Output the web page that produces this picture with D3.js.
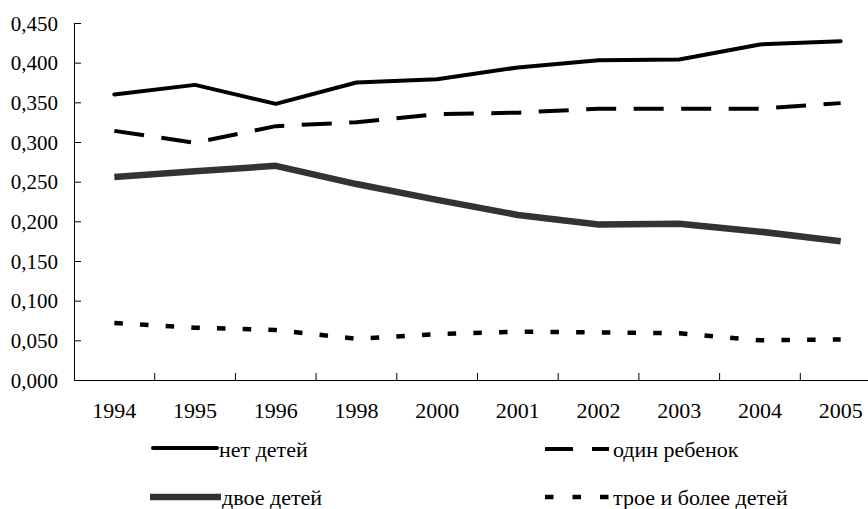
<!DOCTYPE html>
<html>
<head>
<meta charset="utf-8">
<script src="https://cdn.jsdelivr.net/npm/d3@7"></script>
<style>
  body { margin: 0; background: #fff; }
  svg { display: block; }
  svg text { fill: #000; font-family: "Liberation Serif", "Times New Roman", serif; }
</style>
</head>
<body>
<svg id="chart" width="868" height="509"></svg>
<script>
const years = ["1994", "1995", "1996", "1998", "2000", "2001", "2002", "2003", "2004", "2005"];
const yTicks = [0, 0.05, 0.1, 0.15, 0.2, 0.25, 0.3, 0.35, 0.4, 0.45];

const noChildren = [0.360, 0.372, 0.348, 0.375, 0.379, 0.394, 0.403, 0.404, 0.423, 0.427];
const oneChild = [0.314, 0.299, 0.320, 0.325, 0.335, 0.337, 0.342, 0.342, 0.342, 0.349];
const twoChildren = [0.256, 0.263, 0.270, 0.247, 0.227, 0.208, 0.196, 0.197, 0.187, 0.175];
const threePlus = [0.072, 0.066, 0.063, 0.052, 0.058, 0.061, 0.060, 0.059, 0.050, 0.051];

const seriesNames = ["нет детей", "один ребенок", "двое детей", "трое и более детей"];

const series = [
  { name: seriesNames[0], values: noChildren, color: "#000", width: 4, dash: null, cap: "round" },
  { name: seriesNames[1], values: oneChild, color: "#000", width: 4, dash: "30,17.5", cap: "butt" },
  { name: seriesNames[2], values: twoChildren, color: "#333", width: 6.5, dash: null, cap: "butt" },
  { name: seriesNames[3], values: threePlus, color: "#000", width: 4.5, dash: "8.5,17.2", cap: "butt" },
];

const svg = d3.select("#chart");
const plotLeft = 74;
const plotTop = 23;
const plotBottom = 380;
const step = 80.7;
const serif = '"Liberation Serif", "Times New Roman", serif';

const x = d3.scaleBand().domain(years).range([plotLeft, plotLeft + step * years.length]);
const y = d3.scaleLinear().domain([0, 0.45]).range([plotBottom, plotTop]);

const ru = d3.formatLocale({ decimal: ",", thousands: " ", grouping: [3], currency: ["", ""] });
const fmt = ru.format(".3f");

// y axis, ticks pointing inward
const yAxis = svg.append("g")
  .attr("transform", `translate(${plotLeft},0)`)
  .call(d3.axisLeft(y).tickValues(yTicks).tickSize(-7).tickSizeOuter(0).tickPadding(16).tickFormat(fmt))
  .attr("font-family", serif)
  .attr("font-size", 21);
yAxis.select(".domain").attr("stroke", "#000");
yAxis.selectAll(".tick line").attr("stroke", "#000");
yAxis.selectAll("text").attr("dy", "0.34em").style("font-family", serif);

// x axis: labels at band centres, ticks at band boundaries
const xAxis = svg.append("g")
  .attr("transform", `translate(0,${plotBottom})`)
  .call(d3.axisBottom(x).tickSize(0).tickPadding(22))
  .attr("font-family", serif)
  .attr("font-size", 22);
xAxis.select(".domain").attr("stroke", "#000");
xAxis.selectAll("text").style("font-family", serif);

xAxis.selectAll(".sep")
  .data(years.slice(1))
  .join("line")
  .attr("class", "sep")
  .attr("x1", (d) => x(d))
  .attr("x2", (d) => x(d))
  .attr("y1", 0)
  .attr("y2", -7)
  .attr("stroke", "#000");
xAxis.append("line")
  .attr("x1", x.range()[1])
  .attr("x2", x.range()[1])
  .attr("y1", 0)
  .attr("y2", -7)
  .attr("stroke", "#000");

const line = d3.line()
  .x((d, i) => x(years[i]) + x.bandwidth() / 2)
  .y((d) => y(d));

// draw order: twoChildren underneath
const drawOrder = [2, 3, 1, 0];
svg.append("g")
  .selectAll("path")
  .data(drawOrder.map((i) => series[i]))
  .join("path")
  .attr("d", (d) => line(d.values))
  .attr("fill", "none")
  .attr("stroke", (d) => d.color)
  .attr("stroke-width", (d) => d.width)
  .attr("stroke-dasharray", (d) => d.dash)
  .attr("stroke-linecap", (d) => d.cap)
  .attr("stroke-linejoin", "round");

// legend
const legendPos = [
  { x1: 153, x2: 217, y: 448, tx: 219, ty: 457 },
  { x1: 545, x2: 609, y: 449, tx: 613, ty: 457 },
  { x1: 150, x2: 221, y: 497, tx: 222, ty: 505 },
  { x1: 545, x2: 609, y: 497, tx: 613, ty: 505 },
];
const legendDash = [null, "28,19", null, "8.5,19"];

const legend = svg.append("g")
  .attr("font-family", serif)
  .attr("font-size", 22)
  .selectAll("g")
  .data(series)
  .join("g");

legend.append("line")
  .attr("x1", (d, i) => legendPos[i].x1)
  .attr("x2", (d, i) => legendPos[i].x2)
  .attr("y1", (d, i) => legendPos[i].y)
  .attr("y2", (d, i) => legendPos[i].y)
  .attr("stroke", (d) => d.color)
  .attr("stroke-width", (d) => d.width)
  .attr("stroke-dasharray", (d, i) => legendDash[i])
  .attr("stroke-linecap", (d) => d.cap);

legend.append("text")
  .attr("x", (d, i) => legendPos[i].tx)
  .attr("y", (d, i) => legendPos[i].ty)
  .style("font-family", serif)
  .text((d) => d.name);
</script>
</body>
</html>
